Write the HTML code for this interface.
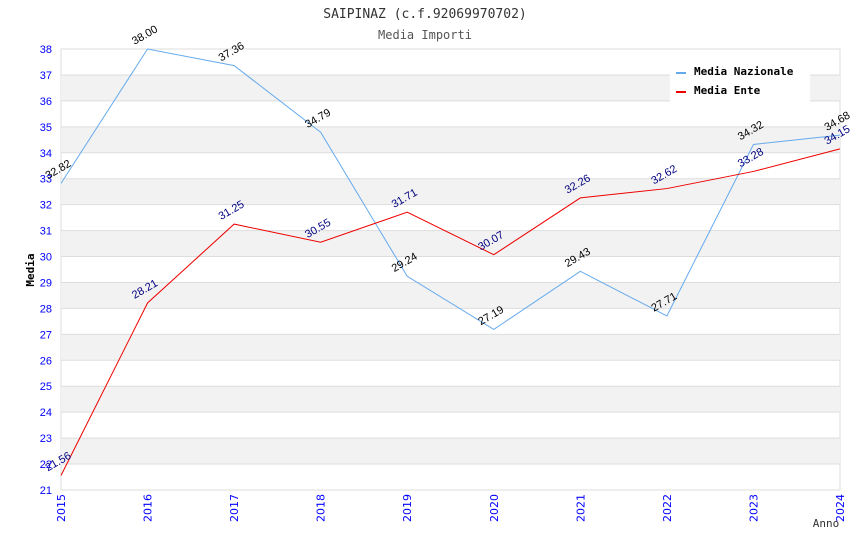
<!DOCTYPE html>
<html><head><meta charset="utf-8"><style>
body{margin:0;background:#fff}
svg text{font-family:"DejaVu Sans Mono","Liberation Mono",monospace}
svg text.sans{font-family:"Liberation Sans",sans-serif}
svg text.dv{font-family:"DejaVu Sans",sans-serif}
</style></head><body>
<svg id="c" width="850" height="550" xmlns="http://www.w3.org/2000/svg">
<text x="425" y="18" text-anchor="middle" font-size="13" fill="#333">SAIPINAZ (c.f.92069970702)</text>
<text x="425" y="39" text-anchor="middle" font-size="12" fill="#555">Media Importi</text>
<g id="grid"></g>
<g id="axes"></g>
<g id="series"></g>
<text x="34" y="270" text-anchor="middle" font-size="11" font-weight="bold" fill="#000" transform="rotate(-90 34 270)">Media</text>
<text x="826" y="527" text-anchor="middle" font-size="11" fill="#333">Anno</text>
<g>
<rect x="670" y="60" width="140" height="42" fill="#fff"/>
<g><line x1="676" y1="73" x2="686" y2="73" stroke="#66aaee" stroke-width="2"/><text x="694" y="75" font-size="11" font-weight="bold">Media Nazionale</text></g>
<g><line x1="676" y1="92" x2="686" y2="92" stroke="#ee0000" stroke-width="2"/><text x="694" y="94" font-size="11" font-weight="bold">Media Ente</text></g>
</g>
</svg>
<script>
const years=["2015","2016","2017","2018","2019","2020","2021","2022","2023","2024"];
const nazionale=[32.82,38.00,37.36,34.79,29.24,27.19,29.43,27.71,34.32,34.68];
const ente=[21.56,28.21,31.25,30.55,31.71,30.07,32.26,32.62,33.28,34.15];
const yTicks=[21,22,23,24,25,26,27,28,29,30,31,32,33,34,35,36,37,38];
const NS="http://www.w3.org/2000/svg";
const L=61,R=840,T=49,B=490,yMin=21,yMax=38;
const xs=i=>L+i*(R-L)/(years.length-1);
const ys=v=>B-(v-yMin)*(B-T)/(yMax-yMin);
function mk(t,a,p){const e=document.createElementNS(NS,t);for(const k in a)e.setAttribute(k,a[k]);p.appendChild(e);return e;}
const grid=document.getElementById('grid'),axes=document.getElementById('axes'),ser=document.getElementById('series');
mk('rect',{x:L,y:T,width:R-L,height:B-T,fill:'#fff',stroke:'#ddd'},grid);
for(let v=yMin;v<yMax;v++){
 if(v%2===0){const r=mk('rect',{x:L,y:ys(v+1),width:R-L,height:ys(v)-ys(v+1),fill:'#f2f2f2'},grid);
 
 }
}
yTicks.forEach(v=>{
 const l=mk('line',{x1:L,x2:R,y1:ys(v),y2:ys(v),stroke:'#ddd'},grid);
 
 
 const t=mk('text',{x:52,y:ys(v)+4,'text-anchor':'end','font-size':11,fill:'#00f',class:'sans'},axes);
 t.textContent=v;
 
 
});
years.forEach((y,i)=>{
 const x=xs(i)+4,yy=494;
 const t=mk('text',{x:x,y:yy,'text-anchor':'end','font-size':11,fill:'#00f',transform:`rotate(-90 ${x} ${yy})`,class:'dv'},axes);
 t.textContent=y;
 
 
});
function series(data,color,lc,name){
 const p=mk('polyline',{points:data.map((v,i)=>xs(i)+','+ys(v)).join(' '),fill:'none',stroke:color,'stroke-width':1},ser);
 
 
 data.forEach((v,i)=>{
  const x=xs(i)-13,y=ys(v)-4;
  const t=mk('text',{x:x,y:y,'font-size':11,fill:lc,transform:`rotate(-30 ${x} ${y})`,class:'sans'},ser);
  t.textContent=v.toFixed(2);
  
  
 });
}
series(nazionale,'#66aaee','#000','nazionale');
series(ente,'#ee0000','#000080','ente');
</script>
</body></html>
